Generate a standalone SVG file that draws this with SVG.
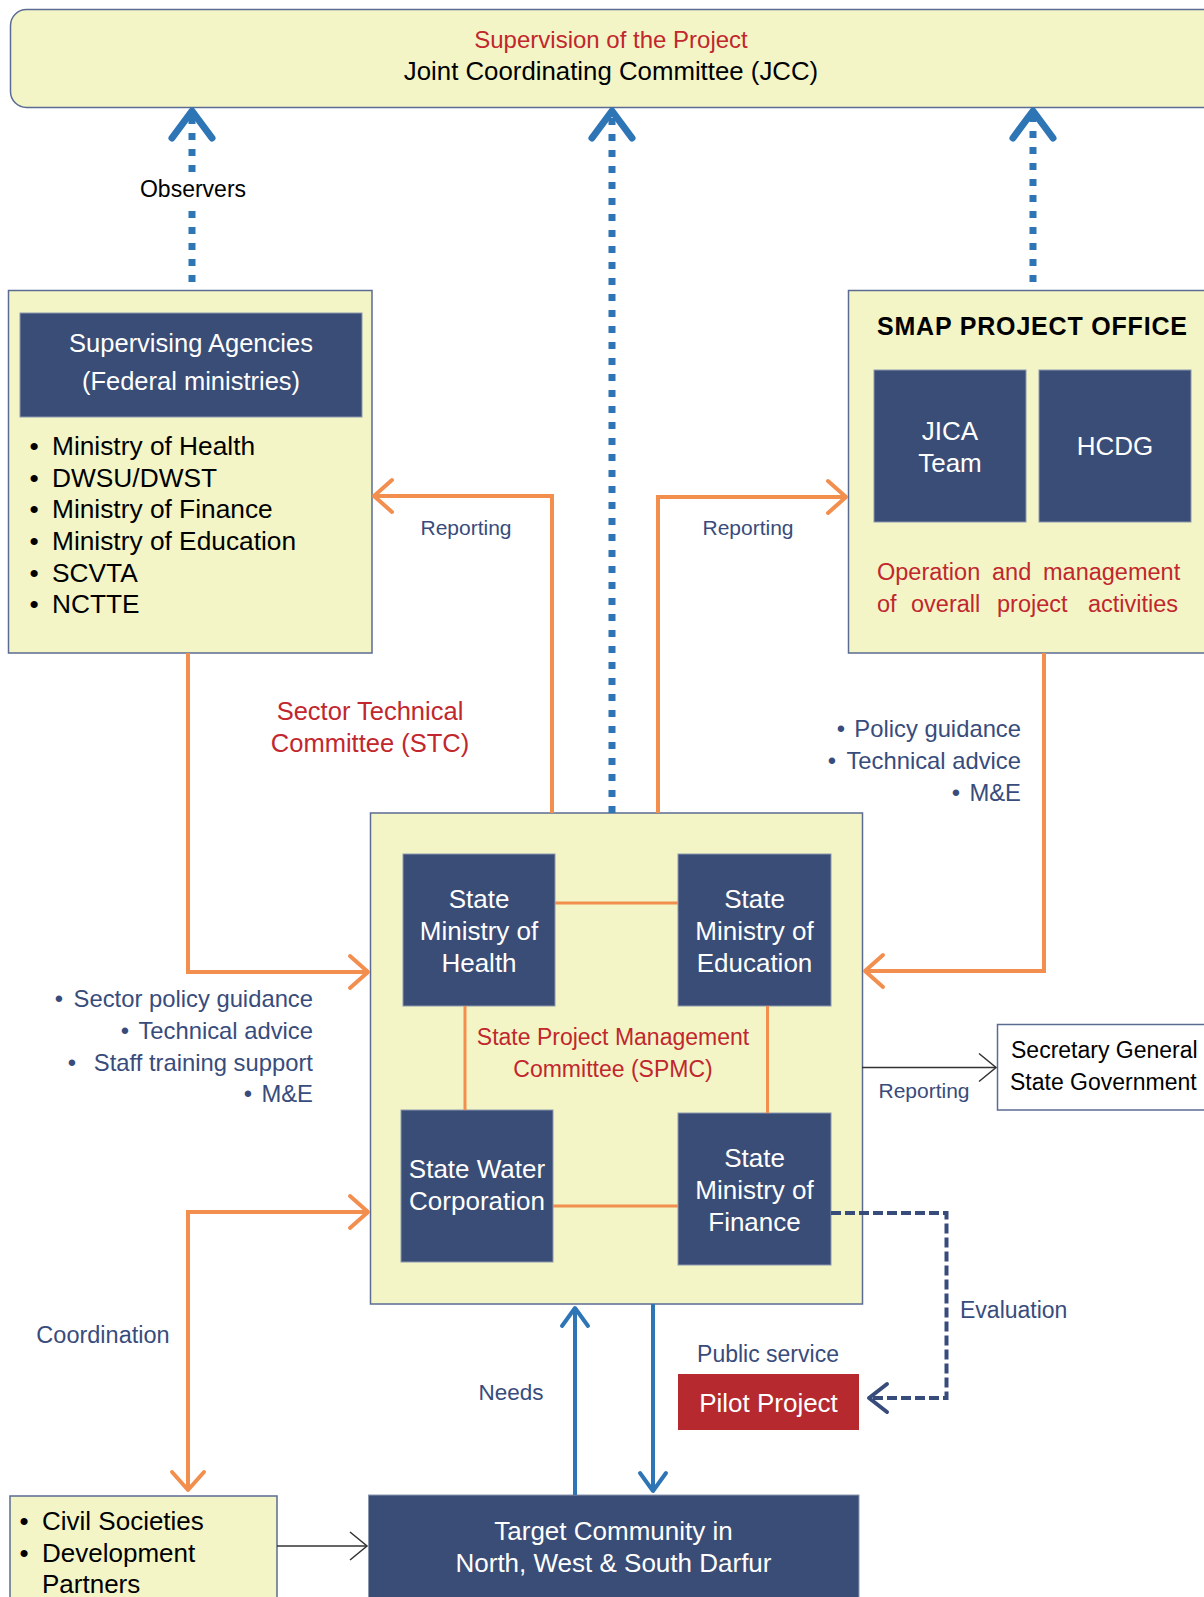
<svg xmlns="http://www.w3.org/2000/svg" width="1204" height="1597" viewBox="0 0 1204 1597">
<style>
text{font-family:"Liberation Sans",Arial,sans-serif}
.cream{fill:#F3F5C7;stroke:#5B6B92;stroke-width:1.5}
.dark{fill:#3A4D76;stroke:#8C97AE;stroke-width:1}
.wt{fill:#fff}
.red{fill:#C1272D}
.lbl{fill:#384C7C}
.blk{fill:#000}
.mid{text-anchor:middle}
.end{text-anchor:end}
.or{fill:none;stroke:#F28E4E;stroke-width:4}
.orthin{fill:none;stroke:#F28E4E;stroke-width:3}
.bdot{fill:none;stroke:#2E75B6;stroke-width:7;stroke-dasharray:7 9}
.bsol{fill:none;stroke:#2E75B6;stroke-width:4}
.eval{fill:none;stroke:#384C7C;stroke-width:4;stroke-dasharray:10 4}
.thin{fill:none;stroke:#333;stroke-width:1.5}
</style>
<defs>
<marker id="mOr" markerUnits="userSpaceOnUse" markerWidth="60" markerHeight="60" viewBox="-30 -30 60 60" refX="0" refY="0" orient="auto-start-reverse" overflow="visible"><path d="M-18,-16 L0,0 L-18,16" fill="none" stroke="#F28E4E" stroke-width="4" stroke-linecap="round" stroke-linejoin="round"/></marker>
<marker id="mBig" markerUnits="userSpaceOnUse" markerWidth="80" markerHeight="80" viewBox="-40 -40 80 80" refX="0" refY="0" orient="auto" overflow="visible"><path d="M-27,-20 L0,0 L-27,20" fill="none" stroke="#2E75B6" stroke-width="7" stroke-linecap="round" stroke-linejoin="round"/></marker>
<marker id="mBl" markerUnits="userSpaceOnUse" markerWidth="60" markerHeight="60" viewBox="-30 -30 60 60" refX="0" refY="0" orient="auto" overflow="visible"><path d="M-18,-13 L0,0 L-18,13" fill="none" stroke="#2E75B6" stroke-width="4" stroke-linecap="round" stroke-linejoin="round"/></marker>
<marker id="mEv" markerUnits="userSpaceOnUse" markerWidth="60" markerHeight="60" viewBox="-30 -30 60 60" refX="0" refY="0" orient="auto" overflow="visible"><path d="M-18,-14 L0,0 L-18,14" fill="none" stroke="#384C7C" stroke-width="4" stroke-linecap="round" stroke-linejoin="round"/></marker>
<marker id="mTh" markerUnits="userSpaceOnUse" markerWidth="60" markerHeight="60" viewBox="-30 -30 60 60" refX="0" refY="0" orient="auto" overflow="visible"><path d="M-17,-14 L0,0 L-17,14" fill="none" stroke="#333" stroke-width="1.5"/></marker>
</defs>

<g id="jcc">
<rect class="cream" x="10.5" y="9.5" width="1215" height="98" rx="16"/>
<text class="red mid" x="611" y="48" font-size="24">Supervision of the Project</text>
<text class="blk mid" x="611" y="80" font-size="25.8">Joint Coordinating Committee (JCC)</text>
</g>

<g id="supervising-agencies">
<rect class="cream" x="8.5" y="290.5" width="363.5" height="362.5"/>
<rect class="dark" x="20" y="313" width="342" height="104"/>
<text class="wt mid" x="191" y="352" font-size="25.5">Supervising Agencies</text>
<text class="wt mid" x="191" y="390" font-size="25.5">(Federal ministries)</text>
<g class="blk" font-size="26.3">
<text x="34" y="455" class="mid">•</text><text x="52" y="455">Ministry of Health</text>
<text x="34" y="487" class="mid">•</text><text x="52" y="487">DWSU/DWST</text>
<text x="34" y="518" class="mid">•</text><text x="52" y="518">Ministry of Finance</text>
<text x="34" y="550" class="mid">•</text><text x="52" y="550">Ministry of Education</text>
<text x="34" y="582" class="mid">•</text><text x="52" y="582">SCVTA</text>
<text x="34" y="613" class="mid">•</text><text x="52" y="613">NCTTE</text>
</g>
</g>

<g id="smap-office">
<rect class="cream" x="848.5" y="290.5" width="370" height="362.5"/>
<text class="blk" x="877" y="335" font-size="25" font-weight="bold" textLength="310" lengthAdjust="spacing">SMAP PROJECT OFFICE</text>
<g id="jica-team">
<rect class="dark" x="874" y="370" width="152" height="152"/>
<text class="wt mid" x="950" y="440" font-size="26">JICA</text>
<text class="wt mid" x="950" y="472" font-size="26">Team</text>
</g>
<g id="hcdg">
<rect class="dark" x="1039" y="370" width="152" height="152"/>
<text class="wt mid" x="1115" y="455" font-size="26">HCDG</text>
</g>
<text class="red" y="580" font-size="23.5"><tspan x="877">Operation</tspan> <tspan x="992">and</tspan> <tspan x="1043">management</tspan></text>
<text class="red" y="612" font-size="23.5"><tspan x="877">of</tspan> <tspan x="911">overall</tspan> <tspan x="997">project</tspan> <tspan x="1088">activities</tspan></text>
</g>

<g id="spmc">
<rect class="cream" x="370.5" y="813" width="492" height="491"/>
<text class="red mid" x="613" y="1045" font-size="23">State Project Management</text>
<text class="red mid" x="613" y="1077" font-size="23">Committee (SPMC)</text>
</g>

<g id="state-health">
<rect class="dark" x="403" y="854" width="152" height="152"/>
<text class="wt mid" font-size="26"><tspan x="479" y="908">State</tspan><tspan x="479" y="940">Ministry of</tspan><tspan x="479" y="972">Health</tspan></text>
</g>
<g id="state-education">
<rect class="dark" x="678" y="854" width="153" height="152"/>
<text class="wt mid" font-size="26"><tspan x="754.5" y="908">State</tspan><tspan x="754.5" y="940">Ministry of</tspan><tspan x="754.5" y="972">Education</tspan></text>
</g>
<g id="state-water">
<rect class="dark" x="401" y="1110" width="152" height="152"/>
<text class="wt mid" font-size="26"><tspan x="477" y="1178">State Water</tspan><tspan x="477" y="1210">Corporation</tspan></text>
</g>
<g id="state-finance">
<rect class="dark" x="678" y="1113" width="153" height="152"/>
<text class="wt mid" font-size="26"><tspan x="754.5" y="1167">State</tspan><tspan x="754.5" y="1199">Ministry of</tspan><tspan x="754.5" y="1231">Finance</tspan></text>
</g>

<g id="secretary-general">
<rect x="997.5" y="1024.5" width="220" height="85.5" fill="#fff" stroke="#5B6B92" stroke-width="1.5"/>
<text class="blk" x="1011" y="1058" font-size="23">Secretary General</text>
<text class="blk" x="1010" y="1090" font-size="23">State Government</text>
</g>

<g id="pilot-project">
<rect x="678" y="1374" width="181" height="56" fill="#B5292F"/>
<text class="wt mid" x="768.5" y="1412" font-size="26">Pilot Project</text>
</g>

<g id="target-community">
<rect class="dark" x="368.5" y="1495" width="490.5" height="120"/>
<text class="wt mid" x="613.5" y="1540" font-size="26">Target Community in</text>
<text class="wt mid" x="613.5" y="1572" font-size="26">North, West &amp; South Darfur</text>
</g>

<g id="civil-societies">
<rect class="cream" x="10" y="1496" width="267" height="120"/>
<g class="blk" font-size="26">
<text x="24" y="1530" class="mid">•</text><text x="42" y="1530">Civil Societies</text>
<text x="24" y="1562" class="mid">•</text><text x="42" y="1562">Development</text>
<text x="42" y="1593">Partners</text>
</g>
</g>

<g id="connectors">
<path class="bdot" d="M192,282 V210 M192,172 V111" marker-end="url(#mBig)"/>
<path class="bdot" d="M612,813 V111" marker-end="url(#mBig)"/>
<path class="bdot" d="M1033,282 V111" marker-end="url(#mBig)"/>
<text class="blk mid" x="193" y="197" font-size="23">Observers</text>
<path class="or" d="M552,813 V496 H374" marker-end="url(#mOr)"/>
<text class="lbl mid" x="466" y="535" font-size="21">Reporting</text>
<path class="or" d="M658,813 V497 H846" marker-end="url(#mOr)"/>
<text class="lbl mid" x="748" y="535" font-size="21">Reporting</text>
<path class="or" d="M188,653 V972 H368" marker-end="url(#mOr)"/>
<path class="or" d="M1044,653 V971 H865" marker-end="url(#mOr)"/>
<path class="or" d="M368,1212 H188 V1490" marker-start="url(#mOr)" marker-end="url(#mOr)"/>
<text class="lbl mid" x="103" y="1343" font-size="23.5">Coordination</text>
<path class="orthin" d="M555,903 H678 M553,1206 H678 M465,1006 V1110 M767.5,1006 V1113"/>
<path class="bsol" d="M575,1495 V1308" marker-end="url(#mBl)"/>
<text class="lbl mid" x="511" y="1400" font-size="22.5">Needs</text>
<path class="bsol" d="M653,1304 V1491" marker-end="url(#mBl)"/>
<text class="lbl mid" x="768" y="1362" font-size="23">Public service</text>
<path class="thin" d="M862,1067.5 H996" marker-end="url(#mTh)"/>
<text class="lbl mid" x="924" y="1098" font-size="21">Reporting</text>
<path class="eval" d="M831,1213 H946.5 V1398 H869" marker-end="url(#mEv)"/>
<text class="lbl" x="960" y="1318" font-size="23">Evaluation</text>
<path class="thin" d="M277,1546 H367" marker-end="url(#mTh)"/>
<text class="red mid" x="370" y="720" font-size="25.5">Sector Technical</text>
<text class="red mid" x="370" y="752" font-size="25.5">Committee (STC)</text>
<g font-size="23.8" class="lbl">
<text x="59" y="1007" class="mid">•</text><text x="313" y="1007" class="end">Sector policy guidance</text>
<text x="125" y="1039" class="mid">•</text><text x="313" y="1039" class="end">Technical advice</text>
<text x="72" y="1071" class="mid">•</text><text x="313" y="1071" class="end">Staff training support</text>
<text x="248" y="1102" class="mid">•</text><text x="313" y="1102" class="end">M&amp;E</text>
<text x="841" y="737" class="mid">•</text><text x="1021" y="737" class="end">Policy guidance</text>
<text x="832" y="769" class="mid">•</text><text x="1021" y="769" class="end">Technical advice</text>
<text x="956" y="801" class="mid">•</text><text x="1021" y="801" class="end">M&amp;E</text>
</g>
</g>
</svg>
